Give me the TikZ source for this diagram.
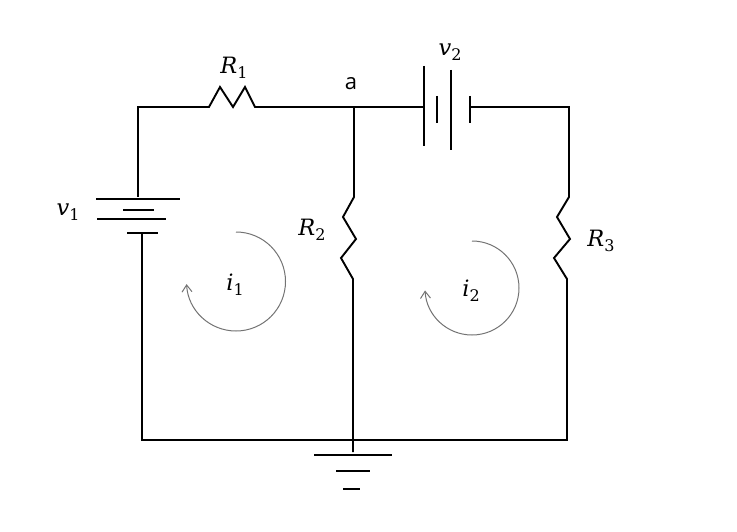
\documentclass[tikz,border=0pt]{standalone}
\usepackage{fontspec}
\setmainfont{Open Sans}
\newfontfamily\symfont{DejaVu Serif}
\newcommand{\symsub}[2]{{\symfont\fontsize{22.5}{24}\selectfont\itshape #1}\raisebox{-5pt}{\symfont\fontsize{16}{18}\selectfont #2}}
\usetikzlibrary{arrows.meta}
\tikzset{
  wire/.style={line width=1.9pt,black,line join=miter},
  loopcur/.style={line width=1pt,black!55,-{Straight Barb[length=7pt,width=10pt,line width=1pt]}},
  lab/.style={inner sep=0pt}
}
\begin{document}
\begin{tikzpicture}[x=1pt,y=-1pt]
\useasboundingbox (0,0) rectangle (737,532);
% named junctions
\coordinate (tl) at (138,107);
\coordinate (a) at (354,107);
\coordinate (tr) at (569,107);
\coordinate (bl) at (142,440);
\coordinate (br) at (567,440);
\coordinate (gnd) at (353,452);
% top wire with R1
\draw[wire] (138,197) -- (tl) -- (209,107) -- (220,87) -- (233,107) -- (245,87) -- (255,107) -- (a) -- (424,107);
\draw[wire] (470,107) -- (tr) -- (569,197) -- (557,217) -- (570,239) -- (554,258) -- (567,279) -- (br) -- (bl) -- (142,233);
% R2
\draw[wire] (a) -- (354,197) -- (343,217) -- (356,239) -- (341,258) -- (353,279) -- (gnd);
% v1 battery
\draw[wire] (96,199) -- (180,199);
\draw[wire] (123,210) -- (154,210);
\draw[wire] (97,219) -- (166,219);
\draw[wire] (127,233) -- (158,233);
% v2 battery
\draw[wire] (424,66) -- (424,146);
\draw[wire] (437,96) -- (437,123);
\draw[wire] (451,70) -- (451,150);
\draw[wire] (470,96) -- (470,123);
% ground
\draw[wire] (314,455) -- (392,455);
\draw[wire] (336,471) -- (370,471);
\draw[wire] (343,489) -- (360,489);
% mesh currents
\draw[loopcur] (236,232) arc[start angle=-90,delta angle=267,radius=49.5];
\draw[loopcur] (472,241) arc[start angle=-90,delta angle=267,radius=47];
% labels
\node[lab] (lr1) at (234,68) {\symsub{R}{1}};
\node[lab] (lr2) at (312,230) {\symsub{R}{2}};
\node[lab] (lr3) at (601,241) {\symsub{R}{3}};
\node[lab] (lv1) at (68,212) {\symsub{v}{1}};
\node[lab] (lv2) at (450,52) {\symsub{v}{2}};
\node[lab] (li1) at (235,285) {\symsub{i}{1}};
\node[lab] (li2) at (471,291) {\symsub{i}{2}};
\node[lab,font=\fontsize{22}{24}\selectfont] (la) at (351,84) {a};
\end{tikzpicture}
\end{document}
